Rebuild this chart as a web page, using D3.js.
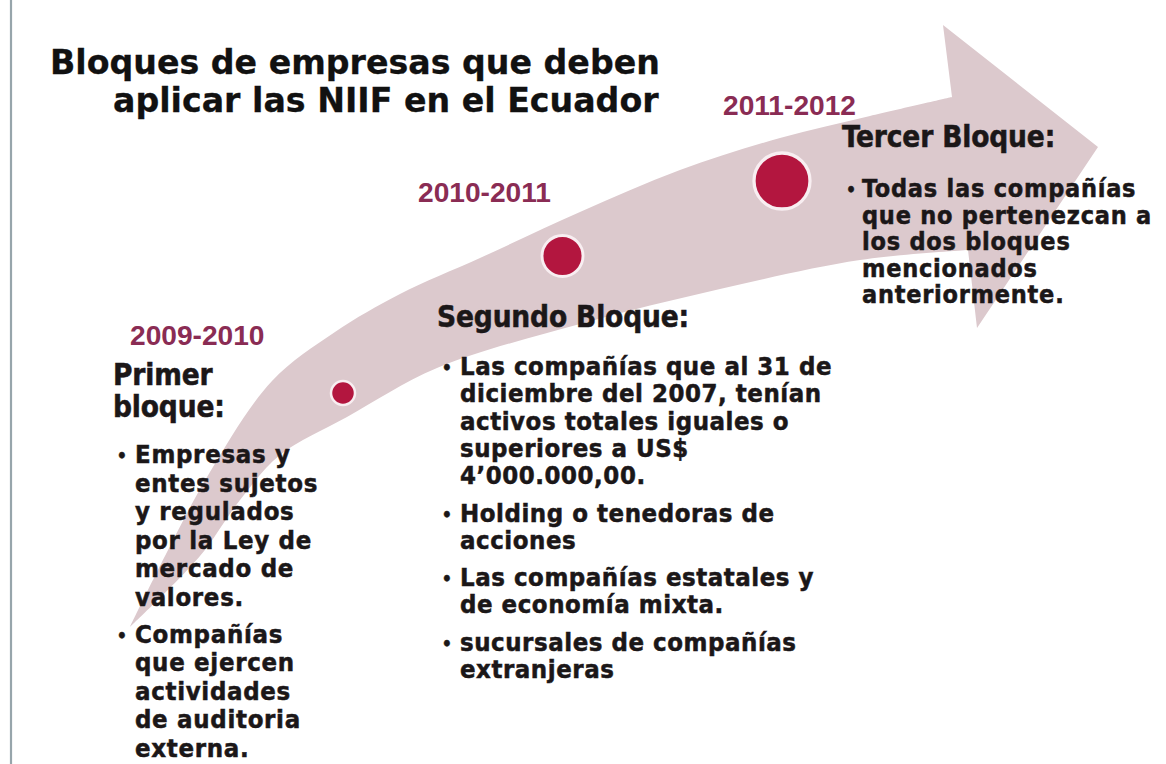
<!DOCTYPE html>
<html>
<head>
<meta charset="utf-8">
<script src="https://cdn.jsdelivr.net/npm/d3@7"></script>
<style>
  html, body { margin: 0; padding: 0; background: #ffffff; }
  svg { display: block; }
</style>
</head>
<body>
<svg id="chart" width="1166" height="764"></svg>
<script>
// ---------------- DATA ----------------
const titleLines = ["Bloques de empresas que deben", "aplicar las NIIF en el Ecuador"];
const stages = ["2009-2010", "2010-2011", "2011-2012"];
const stageOrder = [0, 1, 2];
const blockTitles = [["Primer", "bloque:"], ["Segundo Bloque:"], ["Tercer Bloque:"]];
const block1Bullets = [
  ["Empresas y", "entes sujetos", "y regulados", "por la Ley de", "mercado de", "valores."],
  ["Compañías", "que ejercen", "actividades", "de auditoria", "externa."]
];
const block2Bullets = [
  ["Las compañías que al 31 de", "diciembre del 2007, tenían", "activos totales iguales o", "superiores a US$", "4’000.000,00."],
  ["Holding o tenedoras de", "acciones"],
  ["Las compañías estatales y", "de economía mixta."],
  ["sucursales de compañías", "extranjeras"]
];
const block3Bullets = [
  ["Todas las compañías", "que no pertenezcan a", "los dos  bloques", "mencionados", "anteriormente."]
];
const blockBullets = [block1Bullets, block2Bullets, block3Bullets];

// ---------------- LAYOUT (styles / positions) ----------------
const W = 1166, H = 764;
const svg = d3.select("#chart");
const arrowColor = "#dcc9cd";
const dotColor = "#b3163f";
const yearColor = "#8a2c54";
const textColor = "#1b1718";
const bodyFont = "'DejaVu Sans Condensed', 'DejaVu Sans', Verdana, sans-serif";
const titleFont = "'DejaVu Sans', Verdana, sans-serif";
const yearFont = "'Liberation Sans', Arial, sans-serif";

// scales that place each stage along the arrow
const xStage = d3.scalePoint().domain(stageOrder).range([343, 782]);
const yStage = d3.scaleLinear().domain([0, 1, 2]).range([393, 256, 181]);
const rStage = d3.scaleLinear().domain([0, 1, 2]).range([12, 20.5, 28]);

// left border line
svg.append("line")
  .attr("x1", 11).attr("x2", 11).attr("y1", 0).attr("y2", H)
  .attr("stroke", "#97a5ab").attr("stroke-width", 2.2);

// ---------------- ARROW ----------------
const upperEdge = [[130,627],[165,556],[210,472],[272,381],[335,332],[400,294],[480,258],[580,212],[680,170],[780,138],[870,116],[952,97]];
const headPts = [[943,25],[1098,147],[977,328]];
const lowerEdge = [[968,250],[860,260],[720,289],[580,324],[437,368],[347,417],[280,455],[240,500],[200,556],[130,627]];
const edge = d3.line().curve(d3.curveCatmullRom.alpha(0.5));
let pathStr = edge(upperEdge);
headPts.forEach(p => { pathStr += "L" + p[0] + "," + p[1]; });
pathStr += edge(lowerEdge).replace(/^M/, "L") + "Z";
svg.append("path").attr("d", pathStr).attr("fill", arrowColor);

// ---------------- CIRCLES ----------------
svg.append("g").selectAll("circle").data(stageOrder).join("circle")
  .attr("cx", d => xStage(d))
  .attr("cy", d => yStage(d))
  .attr("r", d => rStage(d))
  .attr("fill", dotColor)
  .attr("stroke", "#f8eef1")
  .attr("stroke-width", d => 2.5 + d * 0.4);

// helpers: measure a string and derive letter-spacing so it spans a target width
function measure(family, weight, size, ref) {
  const t = svg.append("text").attr("font-family", family).attr("font-weight", weight)
    .attr("font-size", size).text(ref);
  const len = t.node().getComputedTextLength();
  t.remove();
  return len;
}
function fitSize(family, weight, ref, target) {
  return 20 * target / measure(family, weight, 20, ref);
}
function fitSpacing(family, weight, size, ref, target) {
  const len = measure(family, weight, size, ref);
  return (target - len) / ref.length;
}

// ---------------- TITLE ----------------
const titleSize = fitSize(titleFont, "bold", titleLines[0], 610);
const titlePos = [[50, 74], [113, 112]];
svg.append("g").selectAll("text").data(titleLines).join("text")
  .attr("x", (d, i) => titlePos[i][0])
  .attr("y", (d, i) => titlePos[i][1])
  .attr("font-family", titleFont).attr("font-weight", "bold")
  .attr("font-size", titleSize).attr("fill", "#111")
  .attr("stroke", "#111").attr("stroke-width", 0.3)
  .text(d => d);

// ---------------- YEAR LABELS ----------------
const yearSize = fitSize(yearFont, "bold", stages[1], 133);
const yearPos = [[130, 345], [418, 202], [723, 115]];
svg.append("g").selectAll("text").data(stages).join("text")
  .attr("x", (d, i) => yearPos[i][0])
  .attr("y", (d, i) => yearPos[i][1])
  .attr("font-family", yearFont).attr("font-weight", "bold")
  .attr("font-size", yearSize).attr("fill", yearColor)
  .text(d => d);

// ---------------- BLOCKS ----------------
const headSize = 29.5;
const headSpacing = fitSpacing(bodyFont, "bold", headSize, blockTitles[1][0], 252);
const blockLayout = [
  { hx: 113, hy: [385, 417], bx: 122, tx: 135, y0: 463, lh: 28.6, gap: 8, ref: "entes sujetos", w: 183, size: 25.5 },
  { hx: 437, hy: [327], bx: 447, tx: 460, y0: 375, lh: 27.3, gap: 10, ref: "Las compañías que al 31 de", w: 372, size: 25.5 },
  { hx: 842, hy: [147], bx: 851, tx: 862, y0: 197, lh: 26.5, gap: 0, ref: "que no pertenezcan a", w: 290, size: 25 }
];

blockLayout.forEach((L, bi) => {
  const g = svg.append("g").attr("font-family", bodyFont).attr("font-weight", "bold")
    .attr("fill", textColor).attr("stroke", textColor).attr("stroke-width", 0.5);
  g.selectAll("text.head").data(blockTitles[bi]).join("text").attr("class", "head")
    .attr("x", L.hx).attr("y", (d, i) => L.hy[i])
    .attr("font-size", headSize).attr("letter-spacing", headSpacing).text(d => d);
  const sp = fitSpacing(bodyFont, "bold", L.size, L.ref, L.w);
  let y = L.y0;
  blockBullets[bi].forEach((lines, k) => {
    if (k > 0) y += L.gap;
    g.append("text").attr("x", L.bx).attr("y", y - 1).attr("font-size", L.size * 0.7)
      .attr("text-anchor", "middle").text("•");
    lines.forEach(line => {
      g.append("text").attr("x", L.tx).attr("y", y).attr("font-size", L.size)
        .attr("letter-spacing", sp).text(line);
      y += L.lh;
    });
  });
});
</script>
</body>
</html>
